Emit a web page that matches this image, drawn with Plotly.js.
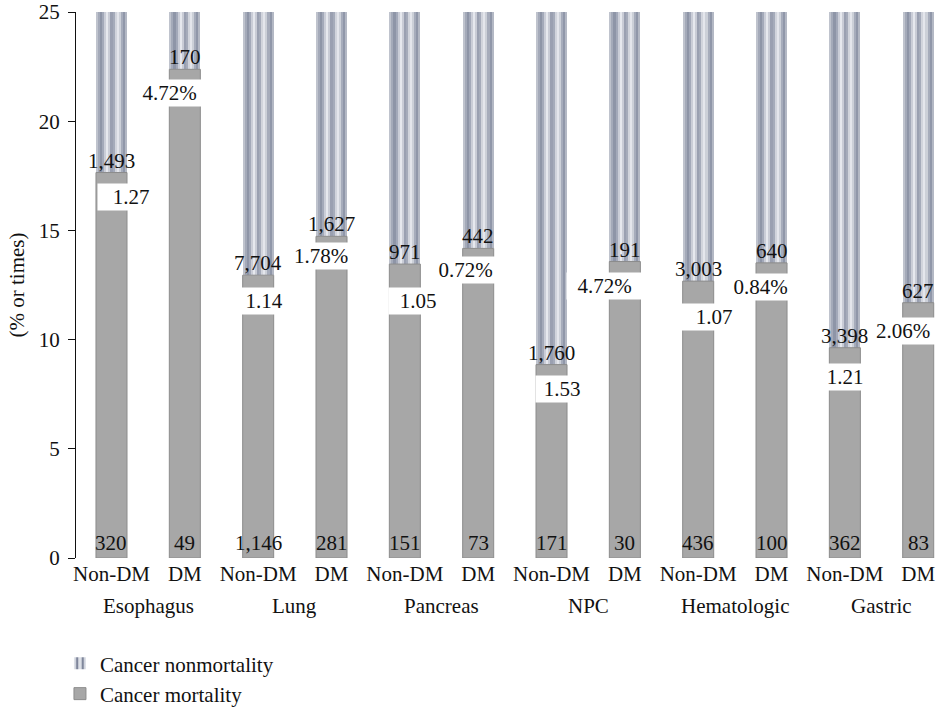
<!DOCTYPE html>
<html>
<head>
<meta charset="utf-8">
<script src="https://cdn.plot.ly/plotly-3.0.1.min.js"></script>
<style>
  html, body { margin: 0; padding: 0; background: #fff; }
  #chart { width: 938px; height: 708px; }
</style>
</head>
<body>
<div id="chart"></div>
<script>
// Cancer sites and diabetes status groups
const cancerSites = ['Esophagus', 'Lung', 'Pancreas', 'NPC', 'Hematologic', 'Gastric'];
const statusLabels = ['Non-DM', 'DM'];

// Patient counts per bar (Non-DM, DM for each site, in order)
const deaths    = [320, 49, 1146, 281, 151, 73, 171, 30, 436, 100, 362, 83];
const survivors = [1493, 170, 7704, 1627, 971, 442, 1760, 191, 3003, 640, 3398, 627];

// Ratios shown on the Non-DM bars and DM prevalence shown on the DM bars
const ratios = [1.27, 1.14, 1.05, 1.53, 1.07, 1.21];
const dmPrevalence = [4.72, 1.78, 0.72, 4.72, 0.84, 2.06];

// Y axis ticks
const yTicks = [0, 5, 10, 15, 20, 25];

// ---- drawing ----
const FONT = 'Liberation Serif, Times New Roman, serif';
const FS = 21;
const barW = 0.423;
const xs = deaths.map((_, i) => i);
const tickText = xs.map(i => statusLabels[i % 2]);
const mortality = deaths.map((d, i) => d / (d + survivors[i]) * 100);
const nonMortality = mortality.map(m => 100 - m);

// shading across the width of the striped bars (left to right)
const stripColors = ['#bfc3cd', '#a4aab9', '#8e95a7', '#a3a9b9', '#cacdd7', '#e6e8ee', '#c9ccd6',
                     '#9aa0b1', '#a5abba', '#d1d4dc', '#e4e6ec', '#ccd0d8', '#a6acbb', '#9097a9', '#b3b8c4'];

const traces = [];
traces.push({
  type: 'bar', name: 'Cancer nonmortality', x: xs, y: nonMortality, base: mortality,
  width: barW,
  marker: { color: '#dfe2e8', line: { width: 0 },
            pattern: { shape: '|', fgcolor: '#7f869b', bgcolor: '#dde0e7', size: 7, solidity: 0.4 } },
  hoverinfo: 'skip'
});
// each strip runs to the right edge of the bar and the next one is laid over it
const stripW = barW / stripColors.length;
stripColors.forEach((c, k) => {
  traces.push({
    type: 'bar', x: xs, y: nonMortality, base: mortality, showlegend: false,
    width: barW - k * stripW,
    offset: -barW / 2 + k * stripW,
    marker: { color: c, line: { width: 0 } },
    hoverinfo: 'skip'
  });
});
traces.push({
  type: 'bar', name: 'Cancer mortality', x: xs, y: mortality, width: barW,
  marker: { color: '#a7a7a7', line: { color: '#8c8c8c', width: 1 } },
  hoverinfo: 'skip'
});

// label placement (pixel offsets)
const ratioGap = [10, 12, 23, 10, 22, 15];
const ratioShift = [19.5, 6, 13, 10, 16, 0];
const ratioBox = [64, 42, 56, 50, 62, 36];
const prevGap = [10, 6, 8, 10, 10, 14];
const prevShift = [-15.5, -11, -12.5, -20.5, -11.5, -15];
const prevBox = [63, 54, 57, 73, 55, 62];

const fmt = n => n.toLocaleString('en-US');
const annotations = [];
const txtFont = { family: FONT, size: FS, color: '#111' };

xs.forEach(i => {
  // survivors count above the mortality segment
  annotations.push({ x: i, y: mortality[i], xref: 'x', yref: 'y', text: fmt(survivors[i]),
    showarrow: false, yanchor: 'bottom', yshift: -2, font: txtFont });
  // deaths count at the base
  annotations.push({ x: i, y: 0, xref: 'x', yref: 'y', text: fmt(deaths[i]),
    showarrow: false, yanchor: 'bottom', yshift: 1, font: txtFont });
});

cancerSites.forEach((site, s) => {
  const a = 2 * s, b = 2 * s + 1;
  annotations.push({ x: a, y: mortality[a], xref: 'x', yref: 'y', text: ratios[s].toFixed(2),
    showarrow: false, xanchor: 'center', yanchor: 'top', yshift: -ratioGap[s], xshift: ratioShift[s],
    width: ratioBox[s], height: 24, borderpad: 1, bgcolor: '#ffffff', align: 'center', font: txtFont });
  annotations.push({ x: b, y: mortality[b], xref: 'x', yref: 'y', text: dmPrevalence[s].toFixed(2) + '%',
    showarrow: false, xanchor: 'center', yanchor: 'top', yshift: -prevGap[s], xshift: prevShift[s],
    width: prevBox[s], height: 24, borderpad: 1, bgcolor: '#ffffff', align: 'center', font: txtFont });
  // site name under each pair
  annotations.push({ x: a + 0.5, y: 0, xref: 'x', yref: 'paper', text: site, showarrow: false,
    yanchor: 'top', yshift: -34, font: txtFont });
});

const layout = {
  width: 938, height: 708,
  margin: { l: 76, r: 0, t: 12, b: 150, pad: 0, autoexpand: false },
  paper_bgcolor: '#ffffff', plot_bgcolor: '#ffffff',
  font: { family: FONT, size: FS, color: '#111' },
  barmode: 'overlay',
  bargap: 0,
  hovermode: false,
  showlegend: true,
  legend: { x: -0.0186, xanchor: 'left', y: -0.156, yanchor: 'top', orientation: 'v',
            font: { family: FONT, size: FS, color: '#111' }, bgcolor: 'rgba(0,0,0,0)', traceorder: 'normal',
            tracegroupgap: 0 },
  xaxis: {
    range: [-0.484, 11.27], tickvals: xs, ticktext: tickText, ticks: '',
    ticklabelstandoff: 1, automargin: false,
    showline: false, showgrid: false, zeroline: false, fixedrange: true,
    tickfont: { family: FONT, size: FS, color: '#111' }
  },
  yaxis: {
    range: [0, 25], tickvals: yTicks, ticktext: yTicks.map(String),
    ticks: 'outside', ticklen: 7, tickwidth: 1, tickcolor: '#111',
    ticklabelstandoff: 4, automargin: false,
    showline: true, linecolor: '#111', linewidth: 1, showgrid: false, zeroline: false, fixedrange: true,
    tickfont: { family: FONT, size: FS, color: '#111' },
    title: { text: '(% or times)', font: { family: FONT, size: FS, color: '#111' }, standoff: 8 }
  },
  annotations: annotations
};

Plotly.newPlot('chart', traces, layout, { displayModeBar: false, staticPlot: true });
</script>
</body>
</html>
